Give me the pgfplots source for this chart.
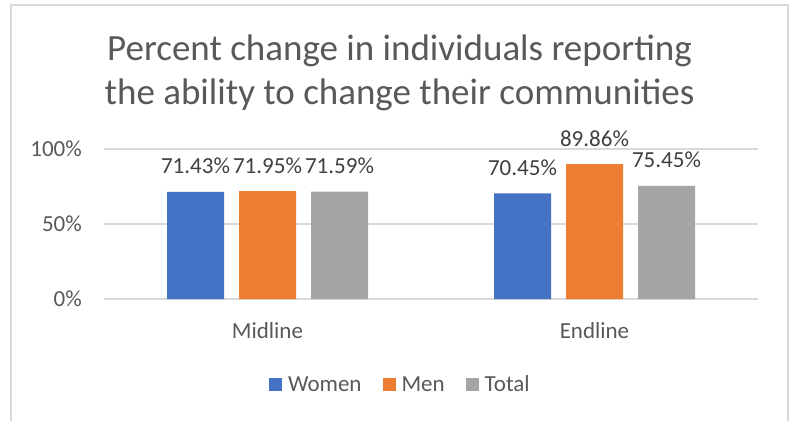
\documentclass[border=0pt]{standalone}
\usepackage{pgfplots}
\pgfplotsset{compat=1.18}
\usepackage{fontspec}
\setmainfont{Carlito}
\definecolor{cblue}{HTML}{4472C4}
\definecolor{corange}{HTML}{ED7D31}
\definecolor{cgray}{HTML}{A5A5A5}
\definecolor{gridc}{HTML}{D9D9D9}
\definecolor{txt}{HTML}{595959}
\definecolor{lbl}{HTML}{404040}
\begin{document}
\begin{tikzpicture}
\useasboundingbox (0pt,0pt) rectangle (795pt,421pt);
\fill[white] (0pt,0pt) rectangle (795pt,421pt);
\draw[gridc, line width=1.2pt] (11pt,0pt) -- (11pt,416pt) -- (788pt,416pt) -- (788pt,0pt);
\node[anchor=base, text=txt, inner sep=0pt, font=\fontsize{37}{44}\selectfont] at (399.5pt,360pt) {Percent change in individuals reporting};
\node[anchor=base, text=txt, inner sep=0pt, font=\fontsize{37}{44}\selectfont] at (399.5pt,316pt) {the ability to change their communities};
\begin{axis}[
  at={(104pt,122pt)}, anchor=south west,
  width=654pt, height=150pt, scale only axis,
  ybar=15pt, bar width=57pt,
  xmin=-0.5, xmax=1.5, ymin=0, ymax=100,
  xtick={0,1}, xticklabels={Midline,Endline},
  ytick={0,50,100},
  yticklabel={\pgfmathprintnumber{\tick}\%},
  /pgf/number format/assume math mode=true,
  axis line style={draw=none},
  major tick length=0pt,
  ymajorgrids, grid style={gridc, line width=1.2pt},
  ticklabel style={font=\fontsize{23}{28}\selectfont, text=txt},
  xticklabel style={anchor=base, yshift=-39pt, inner sep=0pt},
  yticklabel style={anchor=east, xshift=-22pt, inner sep=0pt},
  clip=false,
  nodes near coords={\pgfmathprintnumber[fixed,fixed zerofill,precision=2]{\pgfplotspointmeta}\%},
  nodes near coords style={font=\fontsize{23}{28}\selectfont, text=lbl, anchor=base, yshift=18pt, inner sep=0pt},
  sqlegend/.style={legend image code/.code={\fill[##1,/tikz/.cd] (0pt,0pt) rectangle (13pt,13pt);}},
  legend columns=3,
  legend style={at={(axis description cs:0.2523,0)}, anchor=west, yshift=-85pt,
    draw=none, fill=none, inner sep=0pt, outer sep=0pt,
    font=\fontsize{23}{28}\selectfont, text=txt,
    nodes={inner sep=0pt, anchor=base west},
    /tikz/every even column/.append style={column sep=21pt},
    /tikz/every odd column/.append style={column sep=6pt}},
]
\addplot[fill=cblue, draw=none, sqlegend] coordinates {(0,71.43) (1,70.45)};
\addplot[fill=corange, draw=none, sqlegend] coordinates {(0,71.95) (1,89.86)};
\addplot[fill=cgray, draw=none, sqlegend] coordinates {(0,71.59) (1,75.45)};
\legend{Women,Men,Total}
\end{axis}
\end{tikzpicture}
\end{document}
